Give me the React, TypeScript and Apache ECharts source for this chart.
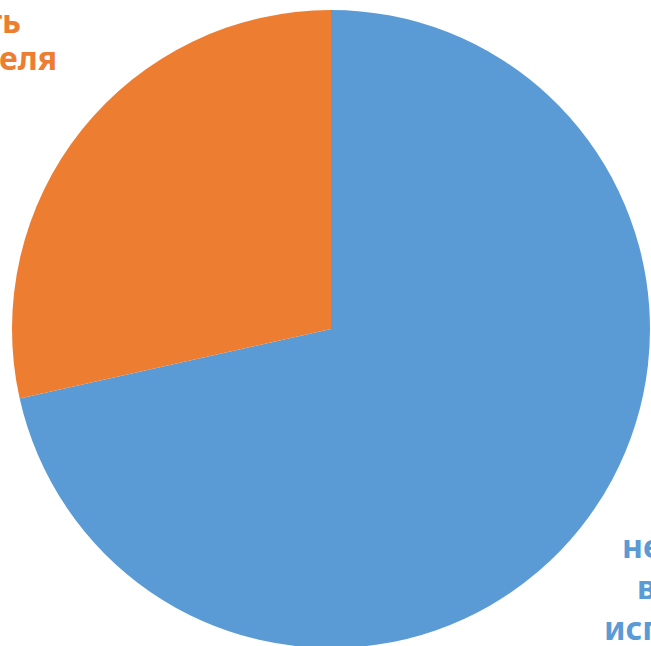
import React, { useEffect, useRef } from "react";
import * as echarts from "echarts";

const categories = ["не нуждаюсь в помощи", "с помощью преподавателя"];
const values = [71.5, 28.5];
const colors = ["#5B9BD5", "#ED7D31"];
const orangeLines = ["Предпочитаю учить", "с помощью преподавателя"];
const blueLines = ["не нуждаюсь", "в помощи,", "использую приложения"];

export default function App() {
  const ref = useRef<HTMLDivElement>(null);
  useEffect(() => {
    const chart = echarts.init(ref.current!, null, { renderer: "svg" });
    const font = "bold 32px 'Noto Sans', sans-serif";
    const st = (text: string, fill: string, align: string) => ({
      text,
      fill,
      font,
      lineHeight: 34,
      textAlign: align,
    });
    chart.setOption({
      animation: false,
      backgroundColor: "#ffffff",
      series: [
        {
          type: "pie",
          center: [331, 329],
          radius: [0, 319],
          startAngle: 90,
          clockwise: true,
          label: { show: false },
          labelLine: { show: false },
          itemStyle: { borderWidth: 0 },
          emphasis: { disabled: true },
          data: categories.map((c, i) => ({
            name: c,
            value: values[i],
            itemStyle: { color: colors[i] },
          })),
        },
      ],
      graphic: [
        { type: "text", right: 651 - 21, top: 3, style: st(orangeLines[0], colors[1], "right") },
        { type: "text", right: 651 - 57, top: 40, style: st(orangeLines[1], colors[1], "right") },
        { type: "text", left: 622, top: 528, style: st(blueLines[0], colors[0], "left") },
        { type: "text", left: 637, top: 569, style: st(blueLines[1], colors[0], "left") },
        { type: "text", left: 604, top: 610, style: st(blueLines[2], colors[0], "left") },
      ],
    });
    return () => chart.dispose();
  }, []);
  return (
    <div
      ref={ref}
      style={{ position: "fixed", left: 0, top: 0, width: 651, height: 646 }}
    />
  );
}
